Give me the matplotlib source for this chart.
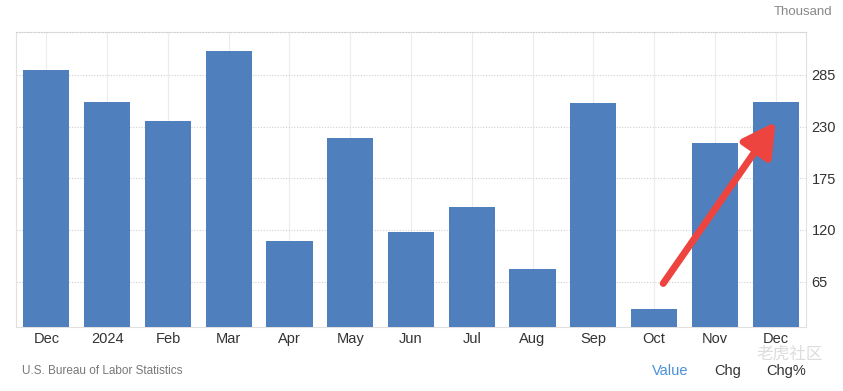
import matplotlib
matplotlib.use('Agg')
import matplotlib.pyplot as plt
import numpy as np

# nonfarm payroll change, thousand
months=['Dec','2024','Feb','Mar','Apr','May','Jun','Jul','Aug','Sep','Oct','Nov','Dec']
values=[290,256,236,310,108,218,118,144,78,255,36,212,256]
yticks=[65,120,175,230,285]

plt.rcParams['font.family']=['Liberation Sans','DejaVu Sans']

fig=plt.figure(figsize=(8.43,3.91),dpi=100)
ax=fig.add_axes([16/843,64.3/391,790/843,295/391])

x=np.arange(len(months))
ax.bar(x,values,width=0.76,color='#4f80bd',zorder=3)

ax.set_xlim(-0.5,len(months)-0.5)
ax.set_ylim(17,331)
ax.set_xticks(x)
ax.set_xticklabels(months,fontsize=10.5,color='#333333')
ax.yaxis.tick_right()
ax.set_yticks(yticks)
ax.set_yticklabels([str(v) for v in yticks],fontsize=10.5,color='#333333')
ax.tick_params(axis='both',length=0,pad=4)

# grid: dotted horizontal, light solid vertical
ax.grid(axis='y',linestyle=(0,(1,1.5)),color='#d0d0d0',linewidth=0.8,zorder=0)
ax.grid(axis='x',linestyle='-',color='#ececec',linewidth=0.8,zorder=0)
for s in ['left','right','bottom']:
    ax.spines[s].set_color('#e0e0e0')
    ax.spines[s].set_linewidth(0.8)
ax.spines['top'].set_linestyle((0,(1,1.5)))
ax.spines['top'].set_color('#d0d0d0')

# red arrow annotation
ax.annotate('',xy=(12.0,235),xytext=(10.15,63),
            arrowprops=dict(arrowstyle='-|>,head_length=2.0,head_width=1.1',color='#ee4440',lw=5,
                            shrinkA=0,shrinkB=0),zorder=5)

fig.text(832/843,1-12/391,'Thousand',ha='right',va='center',fontsize=9.5,color='#888888')
fig.text(22/843,1-371/391,'U.S. Bureau of Labor Statistics',ha='left',va='center',fontsize=8.5,color='#777777')
fig.text(670/843,1-371/391,'Value',ha='center',va='center',fontsize=10.5,color='#4a90d9')
fig.text(728/843,1-371/391,'Chg',ha='center',va='center',fontsize=10.5,color='#333333')
fig.text(786/843,1-371/391,'Chg%',ha='center',va='center',fontsize=10.5,color='#333333')
fig.text(790/843,1-354/391,'老虎社区',ha='center',va='center',fontsize=12,color='#d4d4d4',alpha=0.8,
         family=['Noto Sans CJK SC','DejaVu Sans'])

fig.savefig('out.png',dpi=100)
